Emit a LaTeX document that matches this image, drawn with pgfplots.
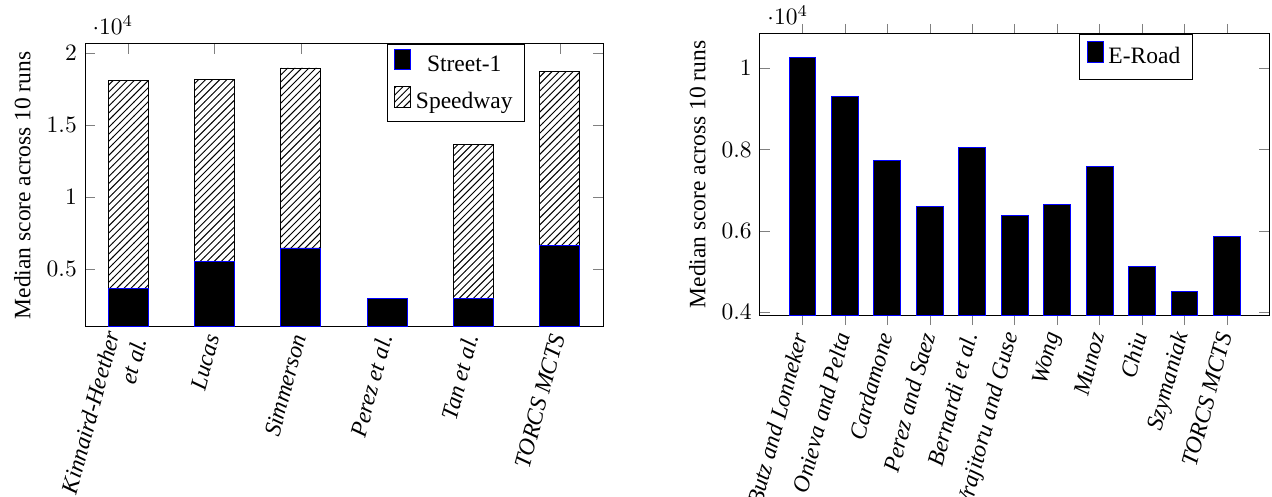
\documentclass[border=0pt]{standalone}
\usepackage{fontspec}
\setmainfont{Liberation Serif}
\usepackage{pgfplots}
\pgfplotsset{compat=1.18}
\usetikzlibrary{patterns}
\begin{document}
\begin{tikzpicture}
\path[use as bounding box] (-36.2pt,-72.3pt) rectangle (505.1pt,139.1pt);
\begin{axis}[
  at={(0,0)}, anchor=south west,
  scale only axis, width=220.4pt, height=120.4pt,
  ybar stacked, bar width=17pt,
  xmin=-0.5, xmax=5.5, ymin=1000, ymax=20650,
  xtick={0,1,2,3,4,5},
  xticklabels={{Kinnaird-Heether\\et al.},Lucas,Simmerson,Perez et al.,Tan et al.,TORCS MCTS},
  x tick label style={rotate=75, anchor=east, font=\itshape, align=right},
  ytick={5000,10000,15000,20000},
  ylabel={Median score across 10 runs},
  legend image code/.code={\draw[#1] (0pt,-2pt) rectangle (6.8pt,6.6pt);},
  legend style={at={(0.849,1)}, anchor=north east, legend cell align=center, row sep=3pt},
]
\addplot[fill=black, draw=blue] coordinates {(0,3680) (1,5510) (2,6480) (3,3000) (4,3000) (5,6620)};
\addplot[pattern=north east lines, draw=black] coordinates {(0,14400) (1,12640) (2,12500) (3,0) (4,10700) (5,12150)};
\legend{Street-1,Speedway}
\end{axis}
\begin{axis}[
  at={(287.2pt,5pt)}, anchor=south west,
  scale only axis, width=216.8pt, height=119.7pt,
  ybar, bar width=11.4pt,
  xmin=-1, xmax=11, ymin=3930, ymax=10846,
  xtick={0,1,2,3,4,5,6,7,8,9,10},
  xticklabels={Butz and Lonneker,Onieva and Pelta,Cardamone,Perez and Saez,Bernardi et al.,Vrajitoru and Guse,Wong,Munoz,Chiu,Szymaniak,TORCS MCTS},
  x tick label style={rotate=75, anchor=east, font=\itshape},
  ytick={4000,6000,8000,10000},
  ylabel={Median score across 10 runs},
  legend image code/.code={\draw[#1] (0pt,-2pt) rectangle (6.8pt,6.6pt);},
  legend style={at={(0.849,1)}, anchor=north east, legend cell align=left, inner ysep=3pt},
]
\addplot[fill=black, draw=blue] coordinates {(0,10270) (1,9310) (2,7730) (3,6600) (4,8050) (5,6390) (6,6650) (7,7580) (8,5135) (9,4506) (10,5870)};
\legend{E-Road}
\end{axis}
\end{tikzpicture}
\end{document}
